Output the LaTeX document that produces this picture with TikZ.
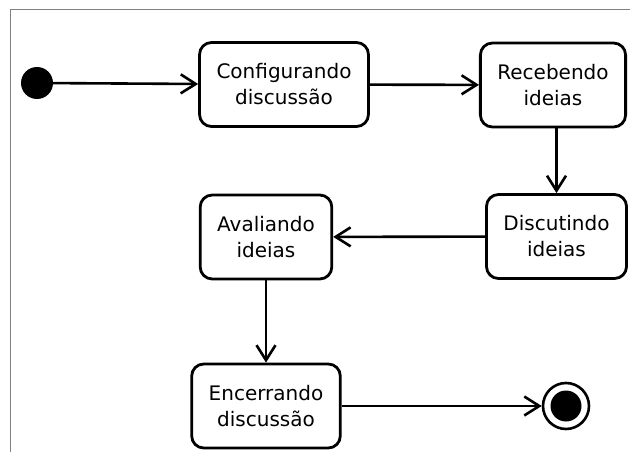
\documentclass[tikz,border=0pt]{standalone}
\usepackage{fontspec}
\setmainfont{DejaVu Sans}
\usetikzlibrary{arrows.meta}

\begin{document}
\begin{tikzpicture}[x=1pt,y=-1pt]
 \tikzstyle{estado}=[draw,line width=2.8pt,rounded corners=12pt,align=center,
 inner xsep=17pt,minimum height=84pt,font=\fontsize{20}{26}\selectfont]
 \tikzstyle{trans}=[line width=2.6pt,-{Straight Barb[length=15pt,width=19pt]}]
\useasboundingbox (0,0) rectangle (630,452);
\draw[gray,line width=1.5pt] (10.5,452) -- (10.5,9.5) -- (630,9.5);
\node[circle,fill,minimum size=32pt,inner sep=0] (ini) at (37,83) {};
\node[estado] (conf) at (284,84.5) {Configurando\\discussão};
\node[estado] (rec) at (553,85) {Recebendo\\ideias};
\node[estado] (disc) at (556.5,236.5) {Discutindo\\ideias};
\node[estado] (aval) at (266,237) {Avaliando\\ideias};
\node[estado] (enc) at (266,406) {Encerrando\\discussão};
\node[circle,draw,line width=2.6pt,minimum size=46pt,inner sep=0] (fim) at (566,406) {};
\fill (fim) circle (15.5);
\draw[trans] (ini) -- (conf);
\draw[trans] (conf) -- (rec);
\draw[trans] (rec.south -| disc.north) -- (disc.north);
\draw[trans] (disc) -- (aval);
\draw[trans] (aval) -- (enc);
\draw[trans] (enc) -- (fim);
\end{tikzpicture}
\end{document}
